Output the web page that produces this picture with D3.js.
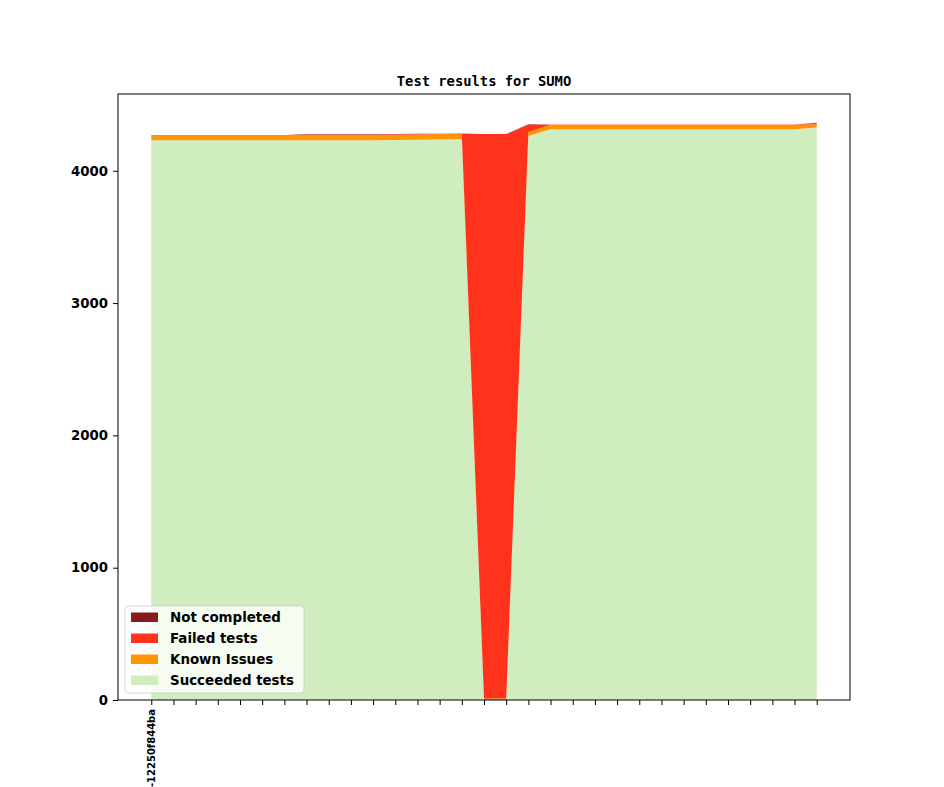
<!DOCTYPE html>
<html>
<head>
<meta charset="utf-8">
<script src="https://cdn.jsdelivr.net/npm/d3@7"></script>
<style>
  body { margin: 0; background: #fff; }
  svg { font-family: "DejaVu Sans", sans-serif; }
</style>
</head>
<body>
<svg id="chart"></svg>
<script>
// builds on the x axis (only the first one carries a label)
const commits = ["-12250f844ba"].concat(d3.range(30).map(() => ""));

// counts per build
const succeeded = [4230, 4230, 4230, 4230, 4230, 4230, 4230, 4230, 4230, 4230, 4230,
  4232, 4234, 4236, 4238, 0, 0, 4262,
  4313, 4313, 4313, 4313, 4313, 4313, 4313, 4313, 4313, 4313, 4313, 4313, 4327];
const knownIssues = [40, 40, 40, 40, 40, 40, 40, 40, 40, 40, 40, 40, 40, 40, 40,
  12, 12, 30, 34, 34, 34, 34, 34, 34, 34, 34, 34, 34, 34, 34, 25];
const failed = [0, 0, 0, 0, 0, 0, 0, 3, 3, 3, 3, 3, 3, 3, 3,
  4265, 4265, 55, 3, 3, 3, 3, 3, 3, 3, 3, 3, 3, 3, 3, 10];
const notCompleted = [0, 0, 0, 0, 0, 0, 0, 2, 2, 2, 2, 2, 2, 0, 0,
  0, 0, 5, 0, 0, 0, 0, 0, 0, 0, 0, 0, 0, 0, 0, 0];

const yTicks = [0, 1000, 2000, 3000, 4000];
const seriesNames = ["Succeeded tests", "Known Issues", "Failed tests", "Not completed"];
const seriesColors = ["#cfedbf", "#ff9500", "#ff321c", "#8b1a1a"];

const config = {
  width: 944,
  height: 787,
  margin: { top: 94, right: 94, bottom: 87, left: 118 }
};

const svg = d3.select("#chart")
    .attr("width", config.width)
    .attr("height", config.height);

const innerLeft = config.margin.left;
const innerRight = config.width - config.margin.right;
const innerTop = config.margin.top;
const innerBottom = config.height - config.margin.bottom;

// table for d3.stack
const table = commits.map((c, i) => ({
  i: i,
  "Succeeded tests": succeeded[i],
  "Known Issues": knownIssues[i],
  "Failed tests": failed[i],
  "Not completed": notCompleted[i]
}));

const stacked = d3.stack().keys(seriesNames)(table);
const yMax = d3.max(stacked[stacked.length - 1], d => d[1]) * 1.05;

// matplotlib style 5% margins on x
const n = commits.length - 1;
const xScale = d3.scaleLinear()
    .domain([-n * 0.05, n * 1.05])
    .range([innerLeft, innerRight]);
const yScale = d3.scaleLinear()
    .domain([0, yMax])
    .range([innerBottom, innerTop]);

const area = d3.area()
    .x(d => xScale(d.data.i))
    .y0(d => yScale(d[0]))
    .y1(d => yScale(d[1]));

svg.append("g")
    .selectAll("path")
    .data(stacked)
    .join("path")
    .attr("d", area)
    .attr("fill", (d, i) => seriesColors[i]);

// axes
const xAxis = svg.append("g")
    .attr("transform", `translate(0,${innerBottom})`)
    .call(d3.axisBottom(xScale)
        .tickValues(d3.range(commits.length))
        .tickFormat(i => commits[i])
        .tickSize(5)
        .tickPadding(3));
xAxis.select(".domain").remove();
xAxis.selectAll("line").attr("stroke", "#000");
xAxis.selectAll("text")
    .attr("transform", "rotate(-90)")
    .attr("x", -9)
    .attr("y", 0)
    .attr("dy", "0.35em")
    .attr("text-anchor", "end")
    .attr("font-size", 10)
    .attr("font-weight", "bold")
    .attr("font-family", "DejaVu Sans")
    .attr("fill", "#000");

const yAxis = svg.append("g")
    .attr("transform", `translate(${innerLeft},0)`)
    .call(d3.axisLeft(yScale)
        .tickValues(yTicks)
        .tickFormat(d3.format("d"))
        .tickSize(5)
        .tickPadding(5));
yAxis.select(".domain").remove();
yAxis.selectAll("line").attr("stroke", "#000");
yAxis.selectAll("text")
    .attr("font-size", 13.3)
    .attr("font-weight", "bold")
    .attr("font-family", "DejaVu Sans")
    .attr("fill", "#000");

// frame
svg.append("rect")
    .attr("x", innerLeft)
    .attr("y", innerTop)
    .attr("width", innerRight - innerLeft)
    .attr("height", innerBottom - innerTop)
    .attr("fill", "none")
    .attr("stroke", "#000")
    .attr("stroke-width", 1);

// title
svg.append("text")
    .attr("x", (innerLeft + innerRight) / 2)
    .attr("y", innerTop - 8)
    .attr("text-anchor", "middle")
    .attr("font-family", "DejaVu Sans Mono")
    .attr("font-weight", "bold")
    .attr("font-size", 13.8)
    .text("Test results for SUMO");

// legend, top entry is the top of the stack
const legend = svg.append("g").attr("transform", "translate(125,606)");
legend.append("rect")
    .attr("width", 179)
    .attr("height", 87)
    .attr("rx", 3)
    .attr("fill", "#fff")
    .attr("fill-opacity", 0.8)
    .attr("stroke", "#ccc")
    .attr("stroke-opacity", 0.8);

const legendItems = seriesNames.map((s, i) => ({ name: s, color: seriesColors[i] })).reverse();
const rows = legend.selectAll("g.row")
    .data(legendItems)
    .join("g")
    .attr("class", "row")
    .attr("transform", (d, i) => `translate(0,${i * 21})`);
rows.append("rect")
    .attr("x", 6)
    .attr("y", 6.5)
    .attr("width", 27)
    .attr("height", 9.5)
    .attr("fill", d => d.color);
rows.append("text")
    .attr("x", 45)
    .attr("y", 16)
    .attr("font-size", 13.4)
    .attr("font-weight", "bold")
    .attr("font-family", "DejaVu Sans")
    .text(d => d.name);
</script>
</body>
</html>
